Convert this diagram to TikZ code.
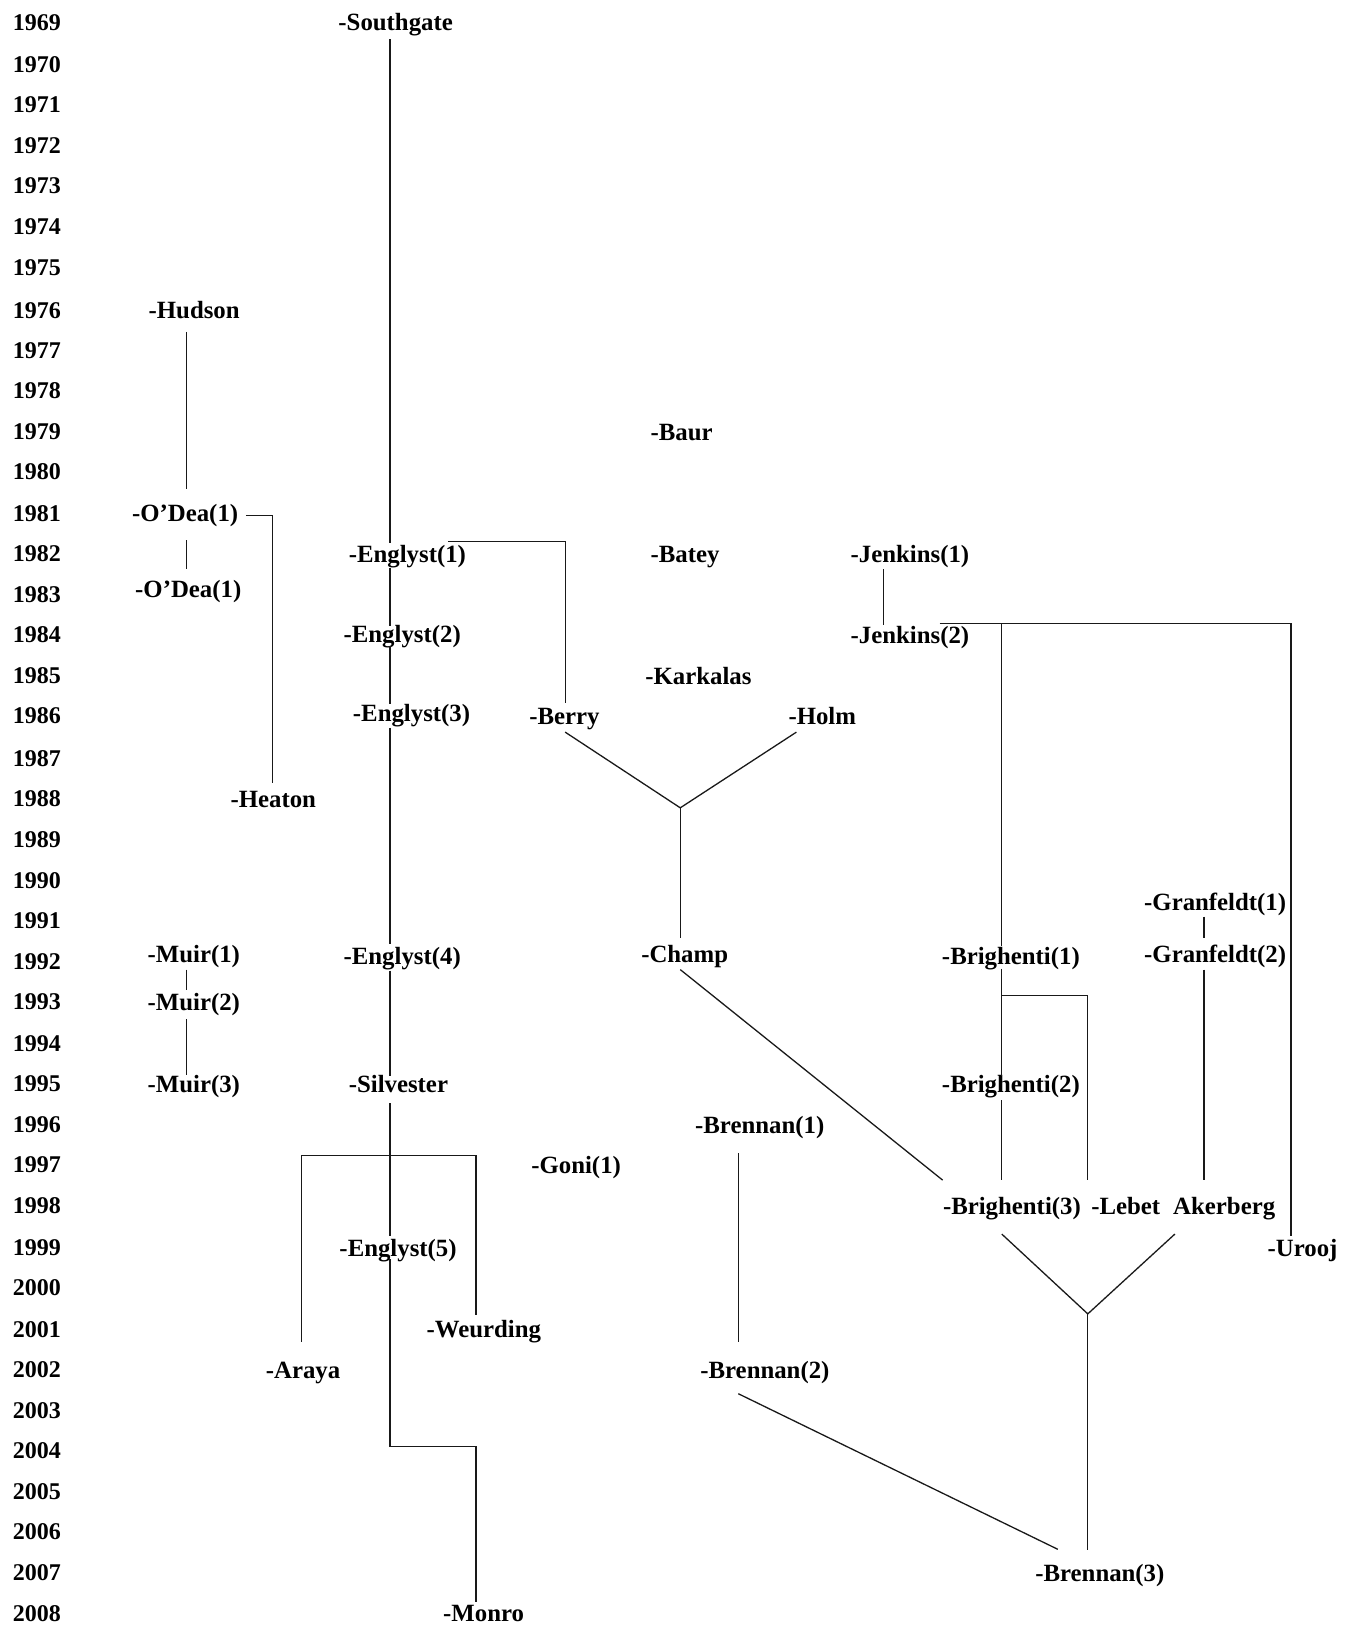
\documentclass[tikz,border=0pt]{standalone}
\usepackage{fontspec}
\setmainfont{Liberation Serif}
\usetikzlibrary{calc}
\begin{document}
\begin{tikzpicture}[x=0.5184pt,y=-0.5184pt,
  yearlbl/.style={font=\fontsize{12}{14}\selectfont\bfseries, inner sep=0pt, text height=8pt, text depth=0pt, anchor=west},
  lbl/.style={font=\fontsize{12.4}{14}\selectfont\bfseries, inner sep=0pt, text height=8pt, text depth=0pt, anchor=west},
  ln/.style={line width=0.65pt, black!90}]
\useasboundingbox (0,0) rectangle (1306,1568);
% years
\foreach \yr/\yy in {1969/22,1970/62,1971/101,1972/140,1973/179,1974/218,1975/258,1976/299,1977/338,1978/377,1979/416,1980/455,1981/495,1982/534,1983/573,1984/612,1985/651,1986/690,1987/731,1988/770,1989/810,1990/849,1991/888,1992/927,1993/966,1994/1006,1995/1045,1996/1084,1997/1123,1998/1162,1999/1203,2000/1242,2001/1282,2002/1321,2003/1360,2004/1399,2005/1438,2006/1477,2007/1516,2008/1556}
  \node[yearlbl] (y\yr) at (12,\yy) {\yr};
% names
\node[lbl] (sg) at (326,22) {-Southgate};
\node[lbl] (hud) at (143,299) {-Hudson};
\node[lbl] (od1) at (127,495) {-O’Dea(1)};
\node[lbl] (od2) at (130,568) {-O’Dea(1)};
\node[lbl] (hea) at (222,771) {-Heaton};
\node[lbl] (muir1) at (142,920) {-Muir(1)};
\node[lbl] (muir2) at (142,967) {-Muir(2)};
\node[lbl] (muir3) at (142,1046) {-Muir(3)};
\node[lbl] (e1) at (336,535) {-Englyst(1)};
\node[lbl] (e2) at (331,612) {-Englyst(2)};
\node[lbl] (e3) at (340,688) {-Englyst(3)};
\node[lbl] (e4) at (331,922) {-Englyst(4)};
\node[lbl] (silv) at (336,1046) {-Silvester};
\node[lbl] (e5) at (327,1204) {-Englyst(5)};
\node[lbl] (araya) at (256,1322) {-Araya};
\node[lbl] (weur) at (411,1282) {-Weurding};
\node[lbl] (monro) at (427,1556) {-Monro};
\node[lbl] (goni) at (512,1124) {-Goni(1)};
\node[lbl] (baur) at (627,417) {-Baur};
\node[lbl] (batey) at (627,535) {-Batey};
\node[lbl] (kark) at (622,652) {-Karkalas};
\node[lbl] (berry) at (510,691) {-Berry};
\node[lbl] (holm) at (760,691) {-Holm};
\node[lbl] (champ) at (618,920) {-Champ};
\node[lbl] (bren1) at (670,1085) {-Brennan(1)};
\node[lbl] (bren2) at (675,1322) {-Brennan(2)};
\node[lbl] (bren3) at (998,1517) {-Brennan(3)};
\node[lbl] (jen1) at (820,535) {-Jenkins(1)};
\node[lbl] (jen2) at (820,613) {-Jenkins(2)};
\node[lbl] (b1) at (908,922) {-Brighenti(1)};
\node[lbl] (b2) at (908,1046) {-Brighenti(2)};
\node[lbl] (b3) at (909,1163) {-Brighenti(3)};
\node[lbl] (lebet) at (1052,1163) {-Lebet};
\node[lbl] (aker) at (1131,1163) {Akerberg};
\node[lbl] (g1) at (1103,870) {-Granfeldt(1)};
\node[lbl] (g2) at (1103,920) {-Granfeldt(2)};
\node[lbl] (urooj) at (1222,1204) {-Urooj};
% main Englyst line
\draw[ln] ($(sg.west -| 376,0)+(0,16)$) -- ($(e1.west -| 376,0)+(0,-11)$);
\draw[ln] ($(e1.west -| 376,0)+(0,13)$) -- ($(e2.west -| 376,0)+(0,-8)$);
\draw[ln] ($(e2.west -| 376,0)+(0,11)$) -- ($(e3.west -| 376,0)+(0,-9)$);
\draw[ln] ($(e3.west -| 376,0)+(0,14)$) -- ($(e4.west -| 376,0)+(0,-12)$);
\draw[ln] ($(e4.west -| 376,0)+(0,14)$) -- ($(silv.west -| 376,0)+(0,-8)$);
\draw[ln] ($(silv.west -| 376,0)+(0,18)$) -- ($(e5.west -| 376,0)+(0,-12)$);
\draw[ln] ($(e5.west -| 376,0)+(0,10)$) -- ($(monro.west -| 376,0)+(0,-161)$) -| ($(monro.west -| 459,0)+(0,-11)$);
\coordinate (split) at ($(silv.west -| 376,0)+(0,68)$);
\draw[ln] ($(araya.west -| 291,0)+(0,-28)$) |- (split) -| ($(weur.west -| 459,0)+(0,-14)$);
\draw[ln] ($(e1.west -| 432,0)+(0,-13)$) -| ($(berry.west -| 545,0)+(0,-13)$);
% left column
\draw[ln] ($(hud.west -| 180,0)+(0,21)$) -- ($(od1.west -| 180,0)+(0,-23)$);
\draw[ln] ($(od1.west -| 180,0)+(0,26)$) -- ($(od2.west -| 180,0)+(0,-19)$);
\draw[ln] ($(od1.west -| 237,0)+(0,2)$) -| ($(hea.west -| 263,0)+(0,-16)$);
\draw[ln] ($(muir1.west -| 180,0)+(0,15)$) -- ($(muir2.west -| 180,0)+(0,-12)$);
\draw[ln] ($(muir2.west -| 180,0)+(0,16)$) -- ($(muir3.west -| 180,0)+(0,-9)$);
% Berry / Holm -> Champ
\coordinate (vj1) at ($(champ.west -| 656,0)+(0,-141)$);
\draw[ln] ($(berry.west -| 545,0)+(0,15)$) -- (vj1) -- ($(holm.west -| 768,0)+(0,15)$);
\draw[ln] (vj1) -- ($(champ.west -| 656,0)+(0,-15)$);
\draw[ln] ($(champ.west -| 656,0)+(0,15)$) -- ($(b3.west -| 909,0)+(0,-25)$);
% Brennan
\draw[ln] ($(bren1.west -| 712,0)+(0,27)$) -- ($(bren2.west -| 712,0)+(0,-28)$);
\draw[ln] ($(bren2.west -| 712,0)+(0,22)$) -- ($(bren3.west -| 1020,0)+(0,-23)$);
% Jenkins
\draw[ln] ($(jen1.west -| 852,0)+(0,14)$) -- ($(jen2.west -| 852,0)+(0,-10)$);
\draw[ln] ($(jen2.west -| 906,0)+(0,-12)$) -| ($(urooj.west -| 1245,0)+(0,-12)$);
\coordinate (jb) at ($(jen2.west -| 966,0)+(0,-12)$);
\draw[ln] (jb) -- ($(b1.west -| 966,0)+(0,-10)$);
\draw[ln] ($(b1.west -| 966,0)+(0,12)$) -- ($(b2.west -| 966,0)+(0,-8)$);
\draw[ln] ($(b2.west -| 966,0)+(0,15)$) -- ($(b3.west -| 966,0)+(0,-25)$);
\coordinate (bj) at ($(b1.west -| 966,0)+(0,38)$);
\draw[ln] (bj) -| ($(lebet.west -| 1049,0)+(0,-25)$);
% Granfeldt
\draw[ln] ($(g1.west -| 1161,0)+(0,14)$) -- ($(g2.west -| 1161,0)+(0,-15)$);
\draw[ln] ($(g2.west -| 1161,0)+(0,15)$) -- ($(aker.west -| 1161,0)+(0,-25)$);
% Brighenti / Akerberg -> Brennan(3)
\coordinate (vj2) at ($(bren3.west -| 1049,0)+(0,-250)$);
\draw[ln] ($(b3.west -| 966,0)+(0,27)$) -- (vj2) -- ($(aker.west -| 1133,0)+(0,27)$);
\draw[ln] (vj2) -- ($(bren3.west -| 1049,0)+(0,-22)$);
\end{tikzpicture}
\end{document}
